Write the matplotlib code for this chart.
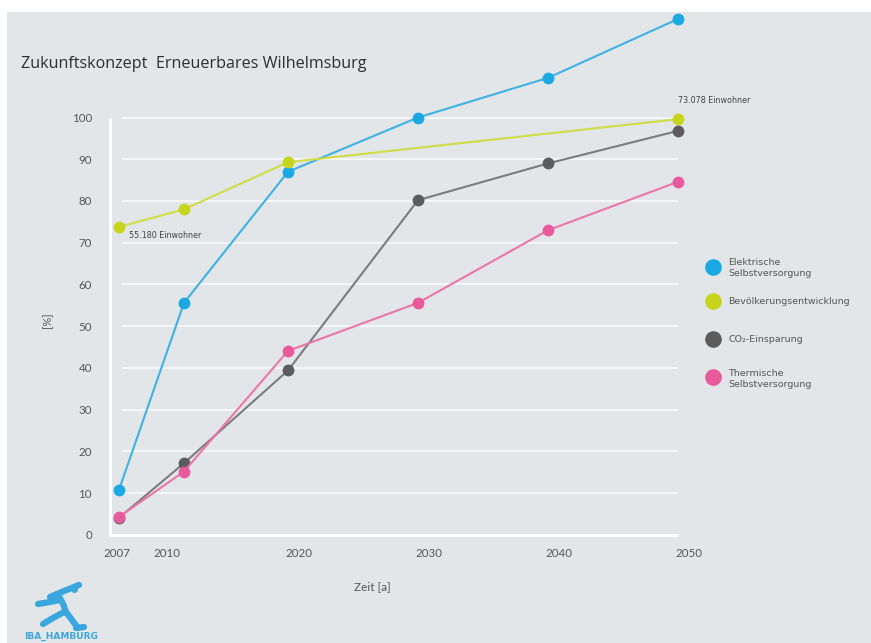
import matplotlib.pyplot as plt
from matplotlib.patches import Rectangle
from matplotlib.lines import Line2D
from matplotlib.transforms import ScaledTranslation

# Values (percent of target)
years = [2007, 2012, 2020, 2030, 2040, 2050]
elektrisch = [10.8, 55.6, 87.0, 100.0, 109.5, 123.6]
bevoelkerung = [73.8, 78.0, 89.3, None, None, 99.6]
co2 = [4.1, 17.2, 39.4, 80.2, 89.0, 96.8]
thermisch = [4.3, 15.2, 44.1, 55.6, 73.0, 84.6]

year_ticks = [2007, 2010, 2020, 2030, 2040, 2050]
pct_ticks = list(range(0, 101, 10))

series_names = ["Elektrische\nSelbstversorgung", "Bevölkerungsentwicklung",
                "CO₂-Einsparung", "Thermische\nSelbstversorgung"]
marker_colors = ["#1ba8e3", "#c6d51c", "#5c5c5c", "#e85a9b"]
line_colors = ["#3fb2e4", "#d0dd45", "#7c7c7c", "#ea77a6"]

W, H = 871, 643
BG = "#e3e6e9"
TXT = "#555555"


def px(x, y):
    # pixel position (from top-left) -> figure fraction
    return x / W, 1 - y / H


fig = plt.figure(figsize=(W / 100, H / 100), dpi=100)
fig.patch.set_facecolor("white")
fig.add_artist(Rectangle(px(7, H), (W - 7) / W, (H - 12) / H,
                         transform=fig.transFigure, facecolor=BG,
                         edgecolor="none", zorder=0))

ax = fig.add_axes([100 / W, 98 / H, 600 / W, 535 / H])
ax.set_facecolor("none")
ax.set_xlim(2005.54, 2051.69)
ax.set_ylim(-2.4, 125.75)
for s in ax.spines.values():
    s.set_visible(False)

# white grid and axis lines
ax.hlines(pct_ticks[1:], 2007.2, 2050, color="#f7f8f9", lw=1.3, zorder=1)
ax.hlines(0, 2006.3, 2050, color="white", lw=2.2, zorder=1)
ax.vlines(2006.3, 0, 100, color="white", lw=2.2, zorder=1)

all_series = [elektrisch, bevoelkerung, co2, thermisch]
draw_order = [1, 0, 2, 3]
for i in draw_order:
    vals = all_series[i]
    xs = [x for x, v in zip(years, vals) if v is not None]
    ys = [v for v in vals if v is not None]
    ax.plot(xs, ys, color=line_colors[i], lw=1.5, zorder=2 + i)
    ax.plot(xs, ys, "o", color=marker_colors[i], ms=8.5, mec="none",
            zorder=3 + i)

ax.set_yticks(pct_ticks)
ax.set_yticklabels([str(v) for v in pct_ticks])
ax.set_xticks(year_ticks)
ax.set_xticklabels([str(y) for y in year_ticks])
ax.tick_params(length=0, labelsize=8.3, labelcolor=TXT)
ax.tick_params(axis="y", pad=5.8)
ax.tick_params(axis="x", pad=2)
for lab in ax.get_yticklabels() + ax.get_xticklabels():
    lab.set_fontfamily("Lato")
shifts = [-2, 9, 11, 11, 11, 11]
for lab, dx in zip(ax.get_xticklabels(), shifts):
    lab.set_transform(lab.get_transform() +
                      ScaledTranslation(dx / 100, 0, fig.dpi_scale_trans))

# population labels
ax.annotate("55.180 Einwohner", (years[0], bevoelkerung[0]),
            xytext=(7, -6.5), textcoords="offset points",
            ha="left", va="center", fontsize=5.8, color="#444444",
            fontfamily="DejaVu Sans")
ax.annotate("73.078 Einwohner", (years[-1], bevoelkerung[-1]),
            xytext=(0, 13.7), textcoords="offset points",
            ha="left", va="center", fontsize=5.8, color="#444444",
            fontfamily="DejaVu Sans")

# title and axis labels
fig.text(*px(21, 68), "Zukunftskonzept  Erneuerbares Wilhelmsburg",
         fontsize=11.6, color="#2e2e2e", fontfamily="Open Sans",
         va="baseline", ha="left")
fig.text(*px(48, 320), "[%]", rotation=90, fontsize=8, color=TXT,
         ha="center", va="center", fontfamily="Lato")
fig.text(*px(372, 587), "Zeit [a]", fontsize=8.5, color=TXT,
         ha="center", va="center", fontfamily="Lato")

# legend
leg_marker_y = [267, 301, 339, 377]
leg_text_y = [258, 301, 339, 369]
leg_va = ["top", "center", "center", "top"]
for i in range(4):
    fig.add_artist(Line2D([713 / W], [1 - leg_marker_y[i] / H], marker="o",
                          ms=12, color=marker_colors[i], mec="none",
                          transform=fig.transFigure))
    fig.text(*px(728, leg_text_y[i]), series_names[i], fontsize=6.8,
             color=TXT, ha="left", va=leg_va[i], linespacing=1.35,
             fontfamily="DejaVu Sans")

# IBA logo: stylised runner and wordmark
logo_blue = "#3aa6de"
strokes = [
    [(50, 597), (64, 591), (79, 585)],
    [(38, 604), (50, 602), (60, 600)],
    [(60, 598), (64, 606), (66, 613)],
    [(64, 612), (53, 618), (43, 624)],
    [(66, 612), (72, 620), (78, 628)],
    [(76, 628), (84, 627)],
]
for st in strokes:
    xs = [p[0] / W for p in st]
    ys = [1 - p[1] / H for p in st]
    fig.add_artist(Line2D(xs, ys, color=logo_blue, lw=4.5,
                          solid_capstyle="round", transform=fig.transFigure))
fig.add_artist(Line2D([74 / W], [1 - 589 / H], marker="o", ms=5,
                      color=logo_blue, mec="none", transform=fig.transFigure))
fig.text(*px(24, 636), "IBA_HAMBURG", fontsize=6.5, fontweight="bold",
         color=logo_blue, ha="left", va="center", fontfamily="DejaVu Sans")

fig.savefig("out.png", dpi=100, facecolor=fig.get_facecolor())
